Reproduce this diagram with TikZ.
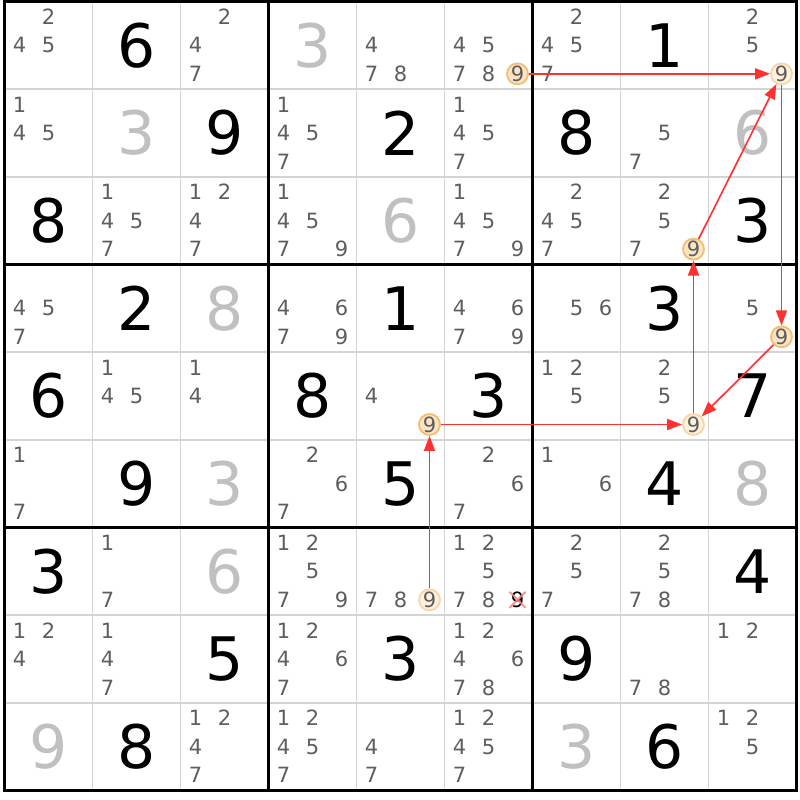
\documentclass[tikz,border=0pt]{standalone}
\usepackage{fontspec}
\setmainfont{DejaVu Sans}
\usetikzlibrary{arrows.meta}
\definecolor{candc}{HTML}{5E5E5E}
\definecolor{givenc}{HTML}{C0C0C0}
\definecolor{thinc}{HTML}{D4D4D4}
\definecolor{hlstrokeA}{HTML}{F5BC72}
\definecolor{hlfillA}{HTML}{FCE4C4}
\definecolor{hlstrokeB}{HTML}{F8D6A6}
\definecolor{hlfillB}{HTML}{FEF1DE}
\definecolor{linkc}{HTML}{FF3030}
\tikzset{
  solvedd/.style={inner sep=0pt, font=\fontsize{60}{60}\selectfont, text=black},
  givend/.style={inner sep=0pt, font=\fontsize{60}{60}\selectfont, text=givenc},
  candd/.style={inner sep=0pt, font=\fontsize{21}{21}\selectfont, text=candc},
  elimd/.style={inner sep=0pt, font=\fontsize{21}{21}\selectfont, text=black},
  hlA/.style={circle, minimum size=21pt, inner sep=0pt, line width=1.8pt, draw=hlstrokeA, fill=hlfillA},
  hlB/.style={circle, minimum size=21pt, inner sep=0pt, line width=1.8pt, draw=hlstrokeB, fill=hlfillB},
  chainlink/.style={draw=linkc, line width=1.6pt, -{Triangle[length=15pt,width=11pt]}},
  crossmark/.style={draw=red!50, line width=2pt, opacity=0.85}
}
\newcommand\solvedcell[3]{\node[solvedd] (s-#1-#2) at ({4.5+88*(#2-0.5)},{1.5+87.667*(#1-0.5)}) {#3};}
\newcommand\givencell[3]{\node[givend] (g-#1-#2) at ({4.5+88*(#2-0.5)},{1.5+87.667*(#1-0.5)}) {#3};}
\newcommand\candcell[3]{\foreach \k in {#3}{\node[candd] (c-#1-#2-\k) at ({4.5+88*(#2-0.5)+(mod(\k-1,3)-1)*29},{1.5+87.667*(#1-0.5)+(div(\k-1,3)-1)*28.5}) {\k};}}
\newcommand\hlcell[3]{\node[#3] (h-#1-#2) at ({4.5+88*(#2-0.5)+29},{1.5+87.667*(#1-0.5)+28.5}) {};}
\begin{document}
\begin{tikzpicture}[x=1pt,y=-1pt]
\useasboundingbox (0,0) rectangle (800,800);
\fill[white] (0,0) rectangle (800,800);
% thin grid
\foreach \i in {1,2,4,5,7,8}{
  \draw[thinc, line width=1.5pt] ({4.5+88*\i},1.5) -- ({4.5+88*\i},790.5);
  \draw[thinc, line width=1.5pt] (4.5,{1.5+87.667*\i}) -- (796.5,{1.5+87.667*\i});
}
% thick grid
\foreach \i in {0,3,6,9}{
  \draw[black, line width=3pt] ({4.5+88*\i},0) -- ({4.5+88*\i},792);
  \draw[black, line width=3pt] (3,{1.5+87.667*\i}) -- (798,{1.5+87.667*\i});
}
% highlights
\hlcell{1}{6}{hlA}
\hlcell{1}{9}{hlB}
\hlcell{3}{8}{hlA}
\hlcell{4}{9}{hlA}
\hlcell{5}{5}{hlA}
\hlcell{5}{8}{hlB}
\hlcell{7}{5}{hlB}
% row 1
\candcell{1}{1}{2,4,5}
\solvedcell{1}{2}{6}
\candcell{1}{3}{2,4,7}
\givencell{1}{4}{3}
\candcell{1}{5}{4,7,8}
\candcell{1}{6}{4,5,7,8,9}
\candcell{1}{7}{2,4,5,7}
\solvedcell{1}{8}{1}
\candcell{1}{9}{2,5,9}
% row 2
\candcell{2}{1}{1,4,5}
\givencell{2}{2}{3}
\solvedcell{2}{3}{9}
\candcell{2}{4}{1,4,5,7}
\solvedcell{2}{5}{2}
\candcell{2}{6}{1,4,5,7}
\solvedcell{2}{7}{8}
\candcell{2}{8}{5,7}
\givencell{2}{9}{6}
% row 3
\solvedcell{3}{1}{8}
\candcell{3}{2}{1,4,5,7}
\candcell{3}{3}{1,2,4,7}
\candcell{3}{4}{1,4,5,7,9}
\givencell{3}{5}{6}
\candcell{3}{6}{1,4,5,7,9}
\candcell{3}{7}{2,4,5,7}
\candcell{3}{8}{2,5,7,9}
\solvedcell{3}{9}{3}
% row 4
\candcell{4}{1}{4,5,7}
\solvedcell{4}{2}{2}
\givencell{4}{3}{8}
\candcell{4}{4}{4,6,7,9}
\solvedcell{4}{5}{1}
\candcell{4}{6}{4,6,7,9}
\candcell{4}{7}{5,6}
\solvedcell{4}{8}{3}
\candcell{4}{9}{5,9}
% row 5
\solvedcell{5}{1}{6}
\candcell{5}{2}{1,4,5}
\candcell{5}{3}{1,4}
\solvedcell{5}{4}{8}
\candcell{5}{5}{4,9}
\solvedcell{5}{6}{3}
\candcell{5}{7}{1,2,5}
\candcell{5}{8}{2,5,9}
\solvedcell{5}{9}{7}
% row 6
\candcell{6}{1}{1,7}
\solvedcell{6}{2}{9}
\givencell{6}{3}{3}
\candcell{6}{4}{2,6,7}
\solvedcell{6}{5}{5}
\candcell{6}{6}{2,6,7}
\candcell{6}{7}{1,6}
\solvedcell{6}{8}{4}
\givencell{6}{9}{8}
% row 7
\solvedcell{7}{1}{3}
\candcell{7}{2}{1,7}
\givencell{7}{3}{6}
\candcell{7}{4}{1,2,5,7,9}
\candcell{7}{5}{7,8,9}
\candcell{7}{6}{1,2,5,7,8}
\node[elimd] (e-7-6) at ({4.5+88*5.5+29},{1.5+87.667*6.5+28.5}) {9};
\draw[crossmark] ([shift={(-8,-8)}]e-7-6.center) -- ([shift={(8,8)}]e-7-6.center);
\draw[crossmark] ([shift={(-8,8)}]e-7-6.center) -- ([shift={(8,-8)}]e-7-6.center);
\candcell{7}{7}{2,5,7}
\candcell{7}{8}{2,5,7,8}
\solvedcell{7}{9}{4}
% row 8
\candcell{8}{1}{1,2,4}
\candcell{8}{2}{1,4,7}
\solvedcell{8}{3}{5}
\candcell{8}{4}{1,2,4,6,7}
\solvedcell{8}{5}{3}
\candcell{8}{6}{1,2,4,6,7,8}
\solvedcell{8}{7}{9}
\candcell{8}{8}{7,8}
\candcell{8}{9}{1,2}
% row 9
\givencell{9}{1}{9}
\solvedcell{9}{2}{8}
\candcell{9}{3}{1,2,4,7}
\candcell{9}{4}{1,2,4,5,7}
\candcell{9}{5}{4,7}
\candcell{9}{6}{1,2,4,5,7}
\givencell{9}{7}{3}
\solvedcell{9}{8}{6}
\candcell{9}{9}{1,2,5}
% chain
\draw[chainlink] (h-7-5) -- (h-5-5);
\draw[chainlink] (h-5-5) -- (h-5-8);
\draw[chainlink] (h-5-8) -- (h-3-8);
\draw[chainlink] (h-3-8) -- (h-1-9);
\draw[chainlink] (h-1-6) -- (h-1-9);
\draw[chainlink] (h-1-9) -- (h-4-9);
\draw[chainlink] (h-4-9) -- (h-5-8);
\end{tikzpicture}
\end{document}
